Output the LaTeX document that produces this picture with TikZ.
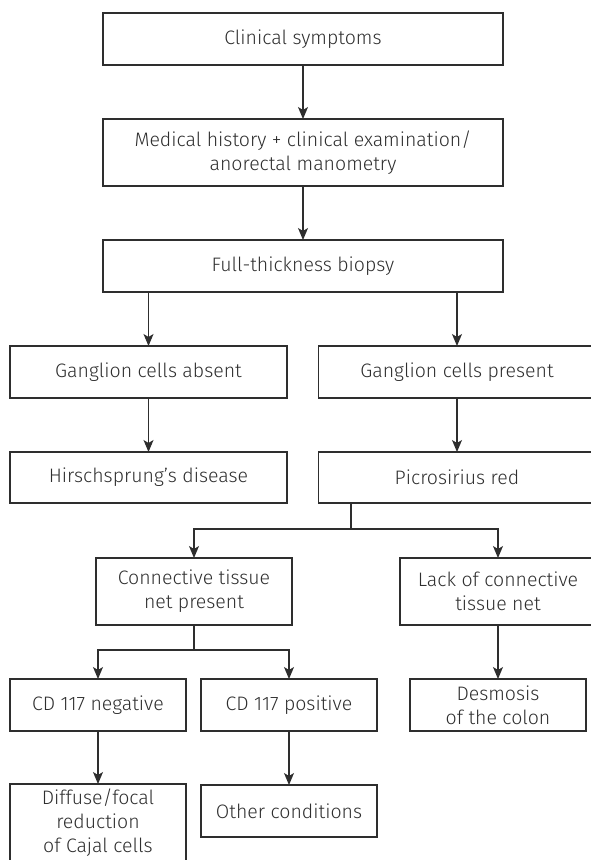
\documentclass[tikz,border=0pt]{standalone}
\usepackage{fontspec}
\setmainfont{Fira Sans}[UprightFont=* Light]
\usetikzlibrary{arrows.meta,calc}
\definecolor{ink}{HTML}{2E2E2E}
\tikzset{
  box/.style={draw=ink, line width=1.2pt, text=ink, inner sep=0pt, outer sep=0pt,
    align=center, font=\fontsize{19.5}{24}\selectfont},
  arr/.style={draw=ink, line width=1.2pt, -{Stealth[length=12pt,width=10pt,inset=3pt]}},
  ln/.style={draw=ink, line width=1.2pt}
}
\begin{document}
\begin{tikzpicture}[x=1pt,y=-1pt]
\useasboundingbox (0,0) rectangle (590,860);
\node[box, minimum width=400, minimum height=52] (cs) at (303,39) {Clinical symptoms};
\node[box, minimum width=400, minimum height=67] (mh) at (303,152.5) {Medical history + clinical examination/\\anorectal manometry};
\node[box, minimum width=400, minimum height=52] (ftb) at (303,266) {Full-thickness biopsy};
\node[box, minimum width=277, minimum height=52] (gca) at (148.5,372) {Ganglion cells absent};
\node[box, minimum width=277, minimum height=52] (gcp) at (457,372) {Ganglion cells present};
\node[box, minimum width=277, minimum height=51] (hd) at (148.5,477.5) {Hirschsprung’s disease};
\node[box, minimum width=277, minimum height=51] (pr) at (457,477.5) {Picrosirius red};
\node[box, minimum width=196, minimum height=67] (ctn) at (194,591.5) {Connective tissue\\net present};
\node[box, minimum width=196, minimum height=67] (lack) at (498,591.5) {Lack of connective\\tissue net};
\node[box, minimum width=176, minimum height=52] (cdn) at (98,705) {CD 117 negative};
\node[box, minimum width=176, minimum height=52] (cdp) at (289,705) {CD 117 positive};
\node[box, minimum width=176, minimum height=52] (des) at (498,705) {Desmosis\\of the colon};
\node[box, minimum width=176, minimum height=78] (dif) at (98,823) {Diffuse/focal\\reduction\\of Cajal cells};
\node[box, minimum width=176, minimum height=52] (oc) at (289,811) {Other conditions};
\coordinate (prb) at (351,503);
\coordinate (s1) at (351,529);
\coordinate (s2) at (194,650);
\draw[arr] (cs) -- (mh);
\draw[arr] (mh) -- (ftb);
\draw[arr] (ftb.south -| gca.north) -- (gca.north);
\draw[arr] (ftb.south -| gcp.north) -- (gcp.north);
\draw[arr] (gca) -- (hd);
\draw[arr] (gcp) -- (pr);
\draw[ln] (prb) -- (s1);
\draw[arr] (s1) -| (ctn.north);
\draw[arr] (s1) -| (lack.north);
\draw[ln] (ctn.south) -- (s2);
\draw[arr] (s2) -| (cdn.north);
\draw[arr] (s2) -| (cdp.north);
\draw[arr] (lack) -- (des);
\draw[arr] (cdn) -- (dif);
\draw[arr] (cdp) -- (oc);
\end{tikzpicture}
\end{document}
